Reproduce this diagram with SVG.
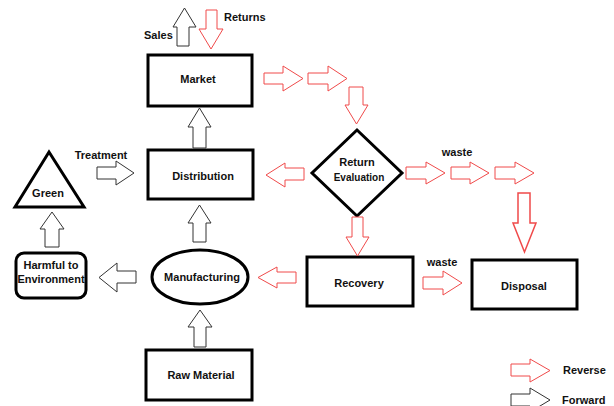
<svg xmlns="http://www.w3.org/2000/svg" width="614" height="406" viewBox="0 0 614 406">
<style>
.box{fill:#fff;stroke:#000;stroke-width:3}
.fw{fill:#fff;stroke:#333;stroke-width:1;stroke-linejoin:miter}
.rv{fill:#fff;stroke:#f04a4a;stroke-width:1;stroke-linejoin:miter}
text{font-family:"Liberation Sans",Arial,sans-serif;font-weight:bold;font-size:11px;fill:#111}
.c{text-anchor:middle}
</style>
<rect width="614" height="406" fill="#fff"/>
<g id="market"><rect class="box" x="148" y="55" width="104" height="51"/><text class="c" x="198" y="83">Market</text></g>
<g id="distribution"><rect class="box" x="148" y="150" width="105" height="49"/><text class="c" x="203" y="180">Distribution</text></g>
<g id="manufacturing"><ellipse class="box" cx="200" cy="277" rx="48" ry="27"/><text class="c" x="202" y="281">Manufacturing</text></g>
<g id="raw-material"><rect class="box" x="146" y="350" width="106" height="50"/><text class="c" x="201" y="379">Raw Material</text></g>
<g id="return-evaluation"><polygon class="box" points="357,130 402,173 357,216 312,173"/><text class="c" x="357" y="166">Return</text><text class="c" x="359" y="181" style="font-size:10px">Evaluation</text></g>
<g id="recovery"><rect class="box" x="307" y="257" width="106" height="49"/><text class="c" x="359" y="287">Recovery</text></g>
<g id="disposal"><rect class="box" x="472" y="260" width="105" height="49"/><text class="c" x="524" y="290">Disposal</text></g>
<g id="green"><polygon class="box" points="49,152 84,207 15,207"/><text class="c" x="48" y="197">Green</text></g>
<g id="harmful"><rect class="box" x="16" y="253" width="70" height="45" rx="8"/><text class="c" x="51" y="269">Harmful to</text><text class="c" x="51" y="283">Environment</text></g>
<g id="connectors">
<path class="fw" d="M177,46V27H173L184.5,8L196,27H189V46Z"/>
<path class="fw" d="M193,148V127H188L199.5,108L211,127H206V148Z"/>
<path class="fw" d="M193,242V223H188L199.5,205L211,223H206V242Z"/>
<path class="fw" d="M194,347V327H188L200,310L212,327H206V347Z"/>
<path class="fw" d="M97,167H116V161L134,173L116,185V179H97Z"/>
<path class="fw" d="M45,247V229H40L52,212L64,229H59V247Z"/>
<path class="fw" d="M136,271H117V263L99,277.5L117,292V283H136Z"/>
<path class="rv" d="M206,10V29H199L211,49L223,29H217V10Z"/>
<path class="rv" d="M264,73H283V66L303,78.5L283,91V84H264Z"/>
<path class="rv" d="M308,73H328V66L347,78.5L328,91V84H308Z"/>
<path class="rv" d="M349,87V105H345L356.5,124L368,105H363V87Z"/>
<path class="rv" d="M304,168H285V163L266,175L285,187V180H304Z"/>
<path class="rv" d="M406,167H426V162L445,173L426,184V179H406Z"/>
<path class="rv" d="M451,167H470V162L489,173L470,184V179H451Z"/>
<path class="rv" d="M495,167H515V162L534,173L515,184V179H495Z"/>
<path class="rv" d="M518,193V223H513L524.5,252L536,223H530V193Z" style="stroke-width:1.5"/>
<path class="rv" d="M352,217V237H346L357.5,256L369,237H363V217Z"/>
<path class="rv" d="M423,277H443V271L462,283L443,295V289H423Z"/>
<path class="rv" d="M296,272H277V267L258,277.5L277,288V283H296Z"/>
<text x="144" y="39">Sales</text>
<text x="224" y="21">Returns</text>
<text class="c" x="101" y="159">Treatment</text>
<text class="c" x="457" y="156">waste</text>
<text class="c" x="442" y="266">waste</text>
</g>
<g id="legend">
<path class="rv" d="M511,364H530V359L550,370.5L530,382V376H511Z"/>
<path class="fw" d="M511,394H530V388L550,400L530,412V406H511Z"/>
<text x="563" y="374">Reverse</text>
<text x="562" y="404">Forward</text>
</g>
</svg>
